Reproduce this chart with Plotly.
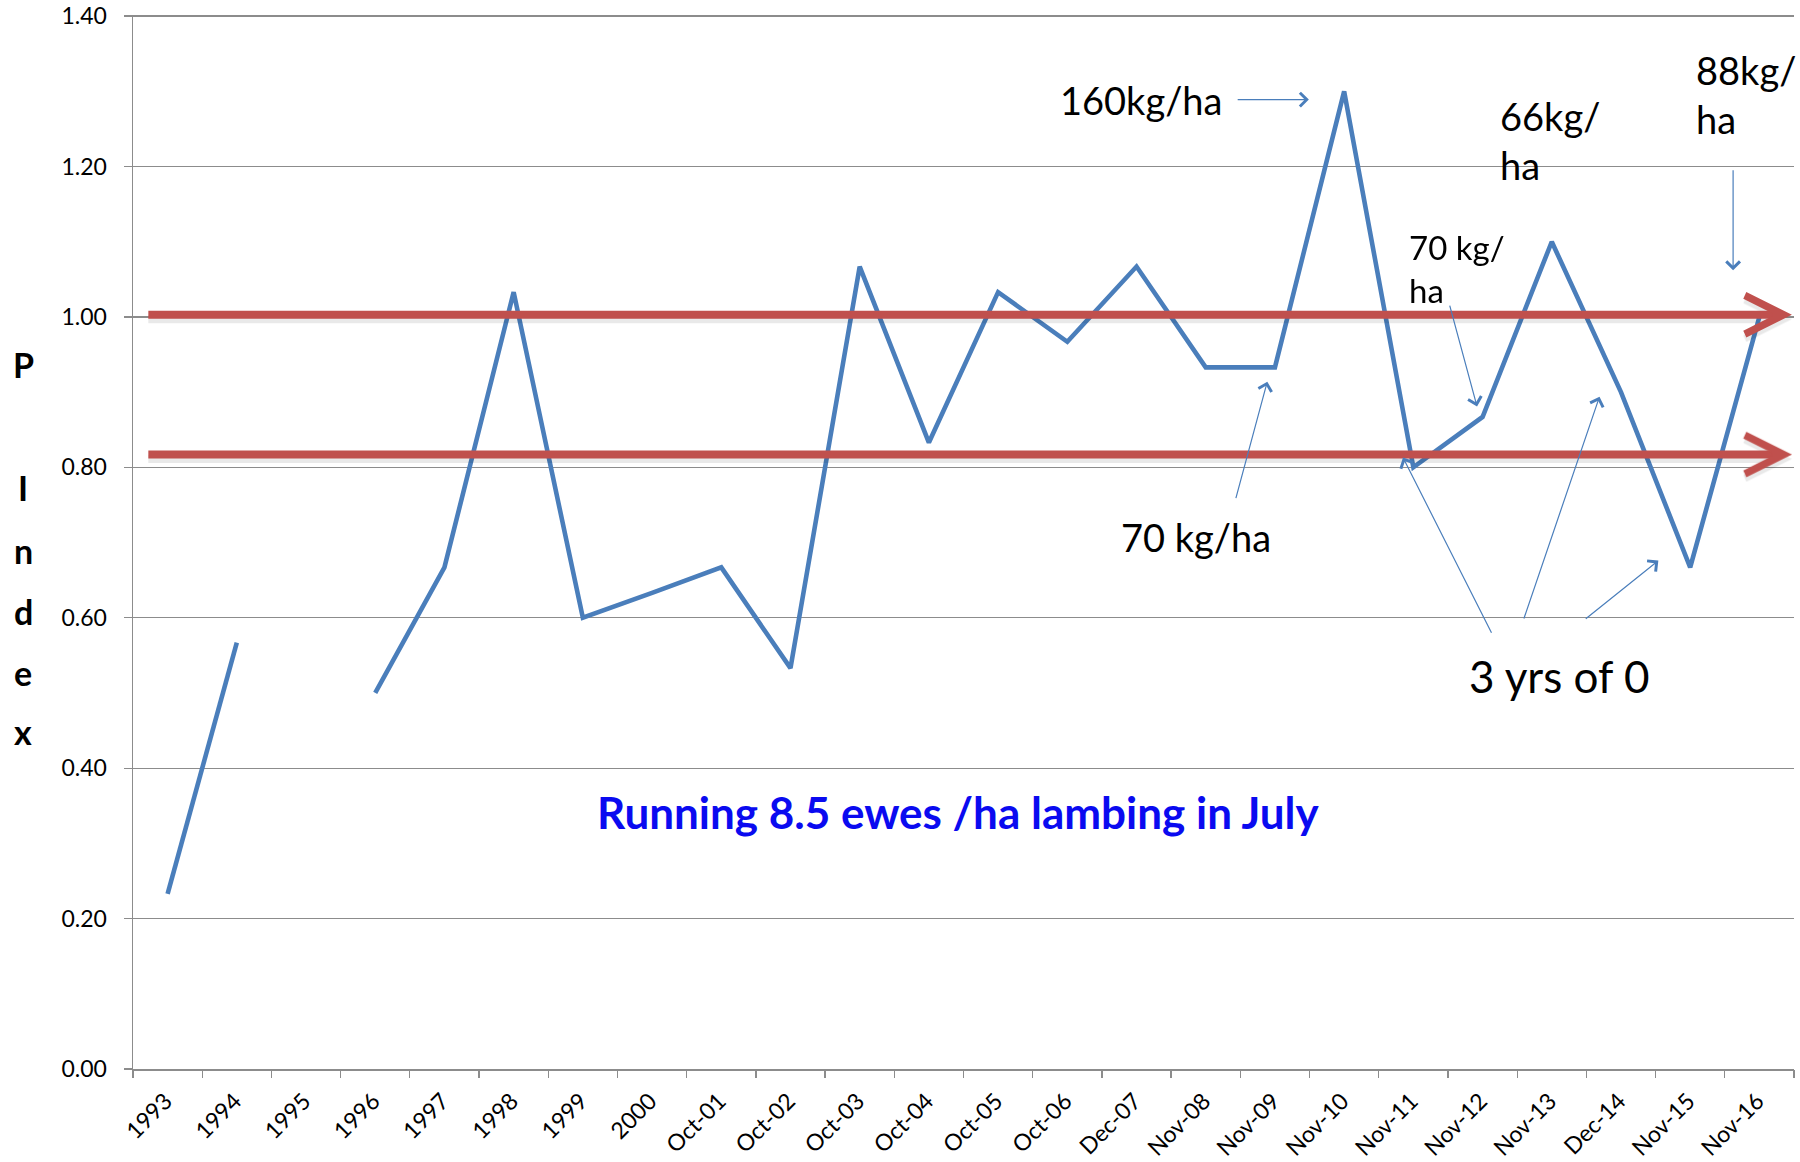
import plotly.graph_objects as go

# ---- data ----
categories = ["1993", "1994", "1995", "1996", "1997", "1998", "1999", "2000",
              "Oct-01", "Oct-02", "Oct-03", "Oct-04", "Oct-05", "Oct-06", "Dec-07",
              "Nov-08", "Nov-09", "Nov-10", "Nov-11", "Nov-12", "Nov-13", "Dec-14",
              "Nov-15", "Nov-16"]
p_index = [0.233, 0.567, None, 0.500, 0.667, 1.033, 0.600, 0.633,
           0.667, 0.533, 1.067, 0.833, 1.033, 0.967, 1.067,
           0.933, 0.933, 1.300, 0.800, 0.867, 1.100, 0.900,
           0.667, 1.000]
band_levels = [1.003, 0.817]
y_ticks = [0.0, 0.2, 0.4, 0.6, 0.8, 1.0, 1.2, 1.4]

FONT = "Lato"
BLUE = "#4A7EBB"
RED = "#C0504D"

fig = go.Figure()
fig.add_trace(go.Scatter(
    x=list(range(len(categories))), y=p_index, mode="lines",
    line=dict(color=BLUE, width=4.6), connectgaps=False,
    hoverinfo="skip", showlegend=False))

annotations = []

# thick red band arrows (soft shadow first, then the arrow)
for lv in band_levels:
    annotations.append(dict(
        x=23.47, y=lv - 0.006, ax=-0.3, ay=lv - 0.006, xref="x", yref="y", axref="x", ayref="y",
        showarrow=True, arrowhead=5, arrowsize=0.95, arrowwidth=8,
        arrowcolor="rgba(0,0,0,0.09)", text="", standoff=0))
    annotations.append(dict(
        x=23.47, y=lv, ax=-0.3, ay=lv, xref="x", yref="y", axref="x", ayref="y",
        showarrow=True, arrowhead=5, arrowsize=0.95, arrowwidth=8,
        arrowcolor=RED, text="", standoff=0))

def note(text, x, y, size, xanchor="left", yanchor="middle", color="black", bold=False):
    annotations.append(dict(
        x=x, y=y, xref="x", yref="y", text=("<b>%s</b>" % text) if bold else text,
        showarrow=False, xanchor=xanchor, yanchor=yanchor, align="left",
        font=dict(family=FONT, size=size, color=color)))

def thin_arrow(x0, y0, x1, y1):
    annotations.append(dict(
        x=x1, y=y1, ax=x0, ay=y0, xref="x", yref="y", axref="x", ayref="y",
        showarrow=True, arrowhead=4, arrowsize=2.2, arrowwidth=1.2,
        arrowcolor=BLUE, text="", standoff=0))

note("160kg/ha", 12.87, 1.289, 38)
thin_arrow(15.44, 1.289, 16.49, 1.289)

note("66kg/<br>ha", 19.23, 1.235, 38)
note("88kg/<br>ha", 22.06, 1.296, 38)
thin_arrow(22.62, 1.197, 22.62, 1.062)

note("70 kg/<br>ha", 17.91, 1.065, 33)
thin_arrow(18.52, 1.017, 18.92, 0.881)

note("70 kg/ha", 13.75, 0.708, 38)
thin_arrow(15.43, 0.757, 15.89, 0.914)

note("3 yrs of 0", 18.78, 0.522, 44)
thin_arrow(19.14, 0.578, 17.85, 0.813)
thin_arrow(19.59, 0.597, 20.69, 0.894)
thin_arrow(20.47, 0.597, 21.54, 0.676)

note("Running 8.5 ewes /ha lambing in July", 11.42, 0.3415, 44,
     xanchor="center", color="#0A0AF0", bold=True)

# stacked y-axis title letters
for letter, py in [("P", 365), ("I", 488), ("n", 550), ("d", 611), ("e", 672), ("x", 731)]:
    annotations.append(dict(
        x=-0.0662, y=(1069 - py) / 1054, xref="paper", yref="paper",
        text="<b>%s</b>" % letter, showarrow=False, xanchor="center", yanchor="middle",
        font=dict(family=FONT, size=34, color="black")))

fig.update_layout(
    width=1800, height=1162,
    margin=dict(l=133, r=6, t=15, b=93, autoexpand=False),
    plot_bgcolor="white", paper_bgcolor="white",
    annotations=annotations,
    xaxis=dict(
        type="linear", range=[-0.5, 23.5], automargin=False,
        tickmode="array", tickvals=list(range(len(categories))), ticktext=categories,
        tickangle=-45, tickfont=dict(family=FONT, size=23, color="black"),
        ticklabelshift=-2, ticklabelstandoff=8,
        showgrid=False, zeroline=False, showline=True, linecolor="#8C8C8C", linewidth=1.5,
        ticks="", fixedrange=True),
    yaxis=dict(
        range=[0, 1.4015], tickmode="array", tickvals=y_ticks, automargin=False,
        ticktext=["%.2f" % v for v in y_ticks], ticklabeloverflow="allow",
        tickfont=dict(family=FONT, size=23, color="black"), ticklabelstandoff=12,
        showgrid=True, gridcolor="#8C8C8C", gridwidth=1.3,
        zeroline=False, showline=True, linecolor="#8C8C8C", linewidth=1.5,
        ticks="outside", ticklen=8, tickcolor="#8C8C8C", tickwidth=1.3),
)

# x-axis boundary tick marks via an overlay axis
fig.update_layout(xaxis2=dict(
    overlaying="x", side="bottom", range=[-0.5, 23.5], tickmode="array", automargin=False,
    tickvals=[i - 0.5 for i in range(len(categories) + 1)], showticklabels=False,
    ticks="outside", ticklen=8, tickcolor="#8C8C8C", tickwidth=1.3,
    showgrid=False, zeroline=False, showline=False, fixedrange=True))
fig.add_trace(go.Scatter(x=[None], y=[None], xaxis="x2", showlegend=False, hoverinfo="skip"))

# remove the browser's default 8px page margin so the figure fills the window exactly
fig.write_html("out.html",
               config={"displayModeBar": False, "staticPlot": True},
               post_script="document.body.style.margin='0';document.body.style.overflow='hidden';")
